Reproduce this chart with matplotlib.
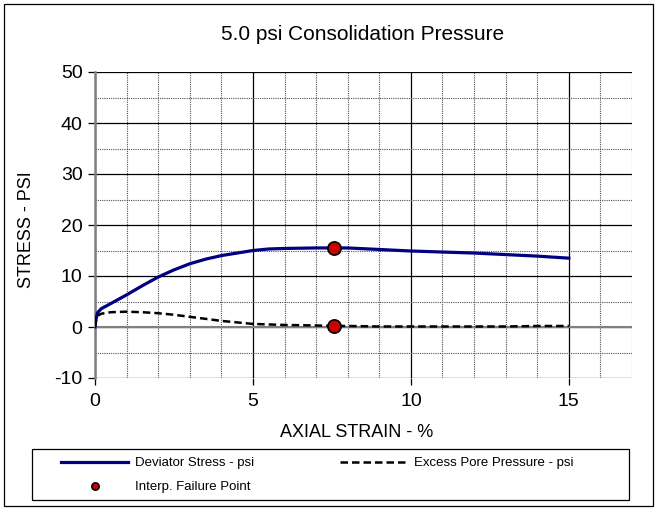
import numpy as np
import matplotlib
matplotlib.use('Agg')
import matplotlib.pyplot as plt
from matplotlib.patches import Rectangle
from matplotlib.ticker import MultipleLocator

plt.rcParams['font.family'] = ['Liberation Sans', 'DejaVu Sans']
plt.rcParams['axes.unicode_minus'] = False

# test readings
strain = [0, 0.03, 0.08, 0.2, 0.5, 1.0, 1.5, 2.0, 2.5, 3.0, 3.5, 4.0, 4.5,
	5.0, 5.5, 6.0, 7.0, 7.56, 8.0, 9.0, 10.0, 11.0, 12.0, 13.0, 14.0, 15.0]
deviator = [0, 1.5, 2.8, 3.6, 4.6, 6.3, 8.1, 9.8, 11.2, 12.4, 13.3, 14.0, 14.5,
	15.0, 15.3, 15.4, 15.5, 15.5, 15.5, 15.2, 14.9, 14.7, 14.5, 14.2, 13.9, 13.5]
pore = [0, 1.2, 2.2, 2.6, 2.9, 3.0, 2.9, 2.7, 2.4, 2.0, 1.6, 1.2, 0.9,
	0.6, 0.5, 0.4, 0.3, 0.2, 0.2, 0.1, 0.1, 0.1, 0.1, 0.1, 0.2, 0.2]
fail_strain = [7.56, 7.56]
fail_stress = [15.5, 0.2]

W, H = 658, 508
fig = plt.figure(figsize=(W/100, H/100), dpi=100)
ax = fig.add_axes([95/W, 1-378/H, (632-95)/W, (378-72)/H])

ax.set_xlim(0, 17)
ax.set_ylim(-10, 50)
ax.xaxis.set_major_locator(MultipleLocator(5))
ax.xaxis.set_minor_locator(MultipleLocator(1))
ax.yaxis.set_major_locator(MultipleLocator(10))
ax.yaxis.set_minor_locator(MultipleLocator(5))
ax.set_xticks([0, 5, 10, 15])

# grid
for x in range(0, 18):
	if x % 5 == 0:
		ax.axvline(x, color='black', lw=0.9, zorder=1)
	else:
		ax.axvline(x, color='#505050', lw=0.8, ls=(0, (1, 1)), zorder=1)
for y in range(-10, 51, 5):
	if y % 10 == 0:
		ax.axhline(y, color='black', lw=0.9, zorder=1)
	else:
		ax.axhline(y, color='#505050', lw=0.8, ls=(0, (1, 1)), zorder=1)
ax.axhline(0, color='#808080', lw=1.5, zorder=1)

for s in ['top', 'right', 'bottom']:
	ax.spines[s].set_visible(False)
ax.spines['left'].set_color('#808080')
ax.spines['left'].set_linewidth(1.8)

ax.tick_params(axis='both', which='major', direction='out', length=5, width=0.9,
	color='black', labelsize=14, pad=4)
ax.tick_params(axis='both', which='minor', length=0)
ax.tick_params(axis='x', pad=6)

ax.plot(strain, deviator, color='#000080', lw=2.3, zorder=3, label='Deviator Stress - psi')
ax.plot(fail_strain, fail_stress, 'o', color='#cc0000', markeredgecolor='black',
	markeredgewidth=1.2, markersize=9.5, zorder=5, label='Interp. Failure Point')
ax.plot(strain, pore, color='black', lw=1.8, ls=(0, (3, 1.6)), zorder=3,
	label='Excess Pore Pressure - psi')

fig.text(363/W, 1-40/H, '5.0 psi Consolidation Pressure', ha='center', va='baseline', fontsize=15)
fig.text(357/W, 1-437/H, 'AXIAL STRAIN - %', ha='center', va='baseline', fontsize=13)
fig.text(31/W, 1-230/H, 'STRESS - PSI', ha='center', va='baseline', rotation=90,
	fontsize=13, rotation_mode='anchor')

leg = fig.legend(loc='upper left', bbox_to_anchor=(61/W, 1-457/H), ncol=2, frameon=False,
	fontsize=9.5, handlelength=5.1, handletextpad=0.5, columnspacing=6.5,
	labelspacing=0.9, borderpad=0, markerscale=0.55, borderaxespad=0)
fig.add_artist(Rectangle((32/W, 1-500/H), (629-32)/W, 51/H, transform=fig.transFigure,
	fill=False, edgecolor='black', lw=0.9))
fig.add_artist(Rectangle((4/W, 2/H), (653-4)/W, (504-2)/H, transform=fig.transFigure,
	fill=False, edgecolor='black', lw=0.9))

fig.savefig('out.png', dpi=100)
